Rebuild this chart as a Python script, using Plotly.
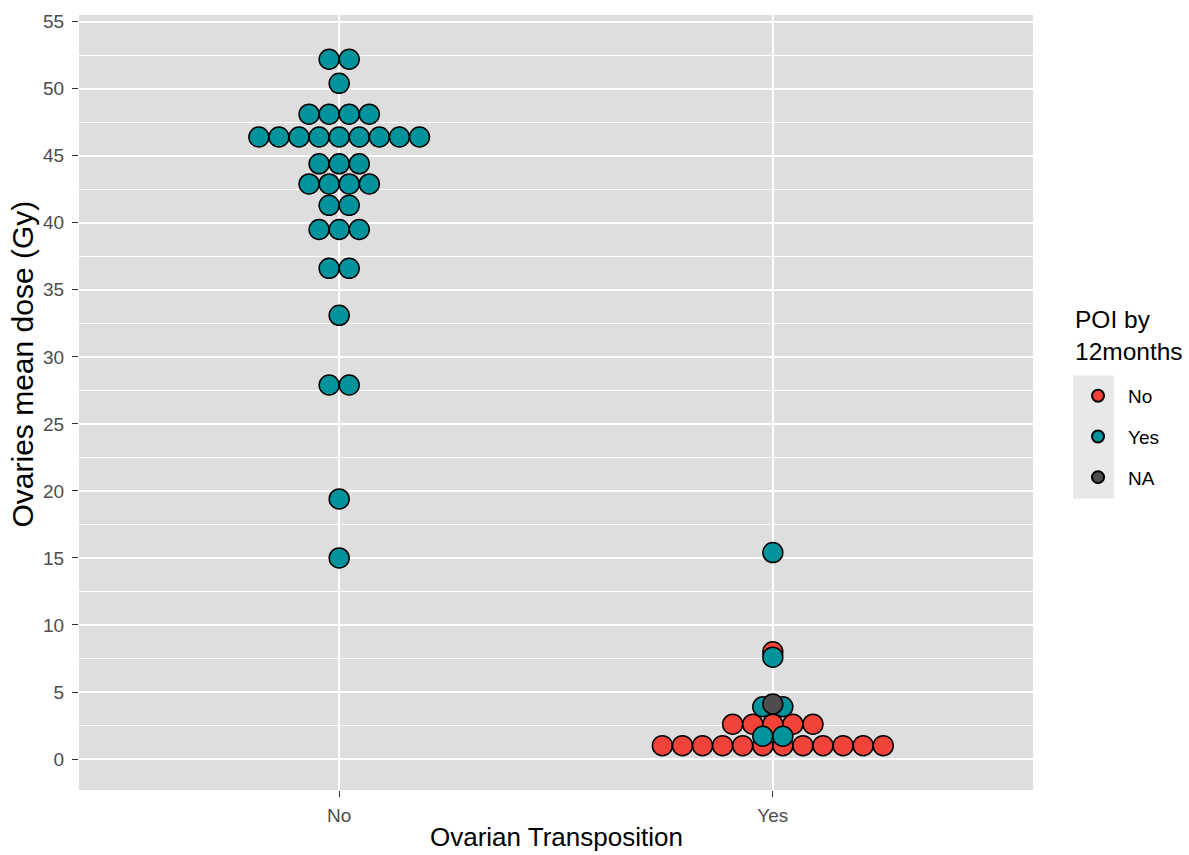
import plotly.graph_objects as go
from collections import Counter

# ---------------- data ----------------
categories = ["No", "Yes"]            # Ovarian Transposition
poi_levels = ["No", "Yes", "NA"]      # POI by 12months
poi_colors = ["#F2433A", "#00939C", "#4D4D4D"]

# Ovarian transposition = No
dose_otno_poi_yes = [52.2, 52.2, 50.4, 48.1, 48.1, 48.1, 48.1,
                     46.4, 46.4, 46.4, 46.4, 46.4, 46.4, 46.4, 46.4, 46.4,
                     44.4, 44.4, 44.4, 42.9, 42.9, 42.9, 42.9, 41.3, 41.3,
                     39.5, 39.5, 39.5, 36.6, 36.6, 33.1, 27.9, 27.9, 19.4, 15.0]
# Ovarian transposition = Yes
dose_otyes_poi_no = [8.0, 2.6, 2.6, 2.6, 2.6, 2.6,
                     1.0, 1.0, 1.0, 1.0, 1.0, 1.0, 1.0, 1.0, 1.0, 1.0, 1.0, 1.0]
dose_otyes_poi_yes = [15.4, 7.6, 3.9, 3.9, 1.7, 1.7]
dose_otyes_poi_na = [4.1]

series = {
    "No": [("Yes", dose_otyes_poi_no)],
    "Yes": [("No", dose_otno_poi_yes), ("Yes", dose_otyes_poi_yes)],
    "NA": [("Yes", dose_otyes_poi_na)],
}

dot_step = 0.0463  # horizontal stacking step (in category units)


def stack(cat, values):
    xs, ys = [], []
    cidx = categories.index(cat) + 1
    counts = Counter(values)
    for v, n in counts.items():
        for i in range(n):
            xs.append(cidx + (i - (n - 1) / 2) * dot_step)
            ys.append(v)
    return xs, ys


fig = go.Figure()
for lvl, col in zip(poi_levels, poi_colors):
    X, Y = [], []
    for cat, vals in series[lvl]:
        xs, ys = stack(cat, vals)
        X += xs
        Y += ys
    fig.add_trace(go.Scatter(
        x=X, y=Y, mode="markers", name=lvl, legendgroup=lvl,
        marker=dict(size=20, color=col, line=dict(color="black", width=1.5)),
        hoverinfo="y",
    ))

font_family = "Liberation Sans, Arial, sans-serif"

fig.update_layout(
    width=1189, height=855,
    paper_bgcolor="white", plot_bgcolor="#DEDEDE",
    margin=dict(l=79, r=156, t=15, b=65),
    font=dict(family=font_family, color="black"),
    showlegend=True,
    legend=dict(
        x=1.0367, y=0.533, xanchor="left", yanchor="top",
        font=dict(size=19, color="black"),
        traceorder="grouped", tracegroupgap=13,
        bgcolor="rgba(0,0,0,0)", itemsizing="constant", itemwidth=50,
    ),
    annotations=[
        dict(text="POI by<br>12months", xref="paper", yref="paper",
             x=1.042, y=0.627, xanchor="left", yanchor="top", align="left",
             showarrow=False, font=dict(size=24.5, color="black")),
        dict(text="Ovaries mean dose (Gy)", xref="paper", yref="paper",
             x=-0.0592, y=0.5497, xanchor="center", yanchor="middle",
             textangle=-90, showarrow=False, font=dict(size=30, color="black")),
        dict(text="Ovarian Transposition", xref="paper", yref="paper",
             x=0.5, y=-0.0387, xanchor="center", yanchor="top",
             showarrow=False, font=dict(size=26, color="black")),
    ],
    xaxis=dict(
        range=[0.4, 2.6], tickmode="array", tickvals=[1, 2], ticktext=categories,
        showgrid=True, gridcolor="white", gridwidth=1.5,
        zeroline=False, ticks="outside", ticklen=6, tickcolor="#333333",
        tickfont=dict(size=19, color="#4D4D4D"), automargin=False,
        ticklabelstandoff=2,
    ),
    yaxis=dict(
        range=[-2.31, 55.5], tickmode="array", tickvals=list(range(0, 56, 5)),
        showgrid=True, gridcolor="white", gridwidth=1.5,
        minor=dict(tickvals=[v + 2.5 for v in range(-5, 56, 5)], showgrid=True,
                   gridcolor="white", gridwidth=0.8),
        zeroline=False, ticks="outside", ticklen=6, tickcolor="#333333",
        tickfont=dict(size=19, color="#4D4D4D"), automargin=False,
        ticklabelstandoff=4,
    ),
    shapes=[dict(type="rect", xref="paper", yref="paper",
                 x0=1.042, x1=1.085, y0=0.376, y1=0.535,
                 fillcolor="#E8E8E8", line=dict(width=0), layer="below")],
)

fig.write_html("out.html", config={"displayModeBar": False},
               post_script="document.body.style.margin='0px';document.body.style.overflow='hidden';")
